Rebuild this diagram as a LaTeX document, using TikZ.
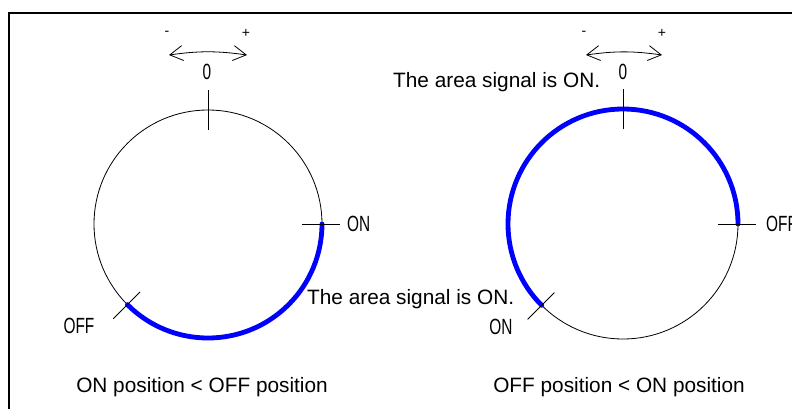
\documentclass[tikz,border=0pt]{standalone}
\usepackage{fontspec}
\setmainfont{Liberation Sans}
\newfontfamily\narrowfont[FakeStretch=0.7]{Liberation Sans}
\usetikzlibrary{arrows.meta,calc}
\definecolor{areablue}{RGB}{0,0,255}

\begin{document}
\begin{tikzpicture}[
  x=1pt, y=1pt,
  dial/.style  = {draw=black, line width=0.8pt},
  mark line/.style = {draw=black, line width=0.8pt},
  area/.style  = {draw=areablue, line width=4.8pt, line cap=round},
  lbl/.style   = {font=\narrowfont\fontsize{22}{24}\selectfont, inner sep=0pt},
  note/.style  = {font=\fontsize{20.8}{24}\selectfont, inner sep=0pt},
  sgn/.style   = {font=\fontsize{14}{16}\selectfont, inner sep=0pt},
  turn/.style  = {{Straight Barb[length=13pt,width=15pt]}-{Straight Barb[length=13pt,width=15pt]},
                  line width=0.8pt}
]
\useasboundingbox (0,0) rectangle (792,408);

% frame
\draw[line width=2pt] (9,-10) -- (9,395) -- (800,395);

% left dial: ON position < OFF position
\coordinate (L) at (208,184);
\draw[dial] (L) circle (114);
\draw[area] ($(L)+(225:114)$) arc[start angle=225, end angle=360, radius=114];
\draw[mark line] ($(L)+(90:94)$)  -- ($(L)+(90:134)$);
\draw[mark line] ($(L)+(0:94)$)   -- ($(L)+(0:132)$);
\draw[mark line] ($(L)+(225:96)$) -- ($(L)+(225:134)$);

\node[lbl] (zeroL) at (207,336) {0};
\coordinate (ccwL) at (169,353);
\coordinate (cwL)  at (247,353);
\draw[turn] (ccwL) to[bend left=8] (cwL);
\node[sgn] (minusL) at (167,375) {-};
\node[sgn] (plusL)  at (246,375) {+};
\node[lbl, anchor=west] (onL) at (347,184) {ON};
\node[lbl] (offL) at (79,82) {OFF};
\node[note, anchor=base west] (sigL) at (307,104) {The area signal is ON.};
\node[note, anchor=base] (capL) at (202,16) {ON position < OFF position};

% right dial: OFF position < ON position
\coordinate (R) at (623,184);
\draw[dial] (R) circle (115);
\draw[area] ($(R)+(0:115)$) arc[start angle=0, end angle=225, radius=115];
\draw[mark line] ($(R)+(90:95)$)  -- ($(R)+(90:135)$);
\draw[mark line] ($(R)+(0:95)$)   -- ($(R)+(0:133)$);
\draw[mark line] ($(R)+(225:97)$) -- ($(R)+(225:135)$);

\node[lbl] (zeroR) at (623,336) {0};
\coordinate (ccwR) at (586,353);
\coordinate (cwR)  at (662,353);
\draw[turn] (ccwR) to[bend left=8] (cwR);
\node[sgn] (minusR) at (584,375) {-};
\node[sgn] (plusR)  at (662,375) {+};
\node[lbl, anchor=west] (offR) at (766,184) {OFF};
\node[lbl] (onR) at (501,81) {ON};
\node[note, anchor=base west] (sigR) at (393,320) {The area signal is ON.};
\node[note, anchor=base] (capR) at (619,16) {OFF position < ON position};

\end{tikzpicture}
\end{document}
